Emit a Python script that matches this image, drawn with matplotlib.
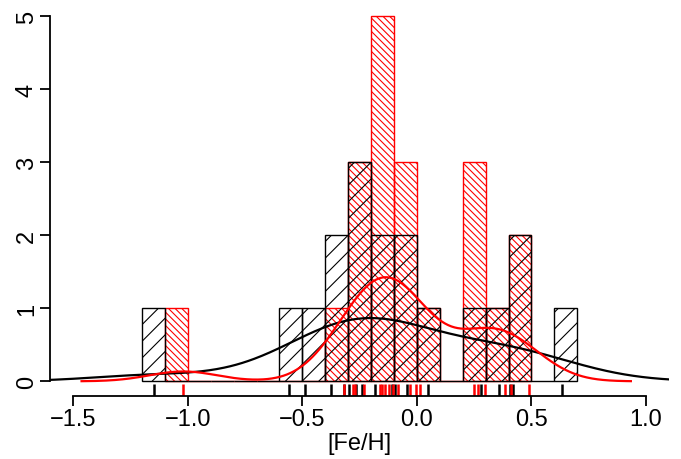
import numpy as np
import matplotlib
matplotlib.use("Agg")
import matplotlib.pyplot as plt

black_vals = [-1.148, -0.558, -0.489, -0.376, -0.318, -0.295, -0.266, -0.24,
              -0.183, -0.110, -0.096, -0.045, 0.050, 0.28, 0.36, 0.405, 0.42, 0.632]
red_vals = [-1.02, -0.318, -0.28, -0.27, -0.231, -0.16, -0.154, -0.14, -0.121,
            -0.105, -0.081, -0.030, -0.004, 0.013, 0.249, 0.268, 0.298, 0.385,
            0.409, 0.49]
black_bins = np.round(np.arange(-1.2, 0.7001, 0.1), 2)
red_bins = np.round(np.arange(-1.1, 0.5001, 0.1), 2)
black_bw = 0.265
red_bw = 0.148
xticks = [-1.5, -1.0, -0.5, 0.0, 0.5, 1.0]
xticklabels = ["\u22121.5", "\u22121.0", "\u22120.5", "0.0", "0.5", "1.0"]
yticks = [0, 1, 2, 3, 4, 5]


def kde(vals, bw, n=512, cut=3):
    v = np.asarray(vals)
    g = np.linspace(v.min() - cut * bw, v.max() + cut * bw, n)
    d = np.exp(-0.5 * ((g[:, None] - v[None, :]) / bw) ** 2).sum(1)
    d /= (len(v) * bw * np.sqrt(2 * np.pi))
    return g, d


plt.rcParams['font.family'] = ['Liberation Sans', 'DejaVu Sans']
plt.rcParams['hatch.linewidth'] = 0.8
W, H = 681, 460
fig = plt.figure(figsize=(W / 100, H / 100), dpi=100)
left, right, bottom, top = 50.4, 668.9, 396.9, 2.7
ax = fig.add_axes([left / W, 1 - bottom / H, (right - left) / W, (bottom - top) / H])

ax.hist(red_vals, bins=red_bins, histtype='bar', facecolor='none',
        edgecolor='#FF0000', hatch='\\' * 5, linewidth=1.0)
ax.hist(black_vals, bins=black_bins, histtype='bar', facecolor='none',
        edgecolor='black', hatch='//', linewidth=1.0)

gx, gy = kde(black_vals, black_bw)
ax.plot(gx, gy, color='black', lw=1.6)
rx, ry = kde(red_vals, red_bw)
ax.plot(rx, ry, color='#FF0000', lw=1.6)

# rugs
for v in black_vals:
    ax.plot([v, v], [0, 0.03], transform=ax.get_xaxis_transform(),
            color='black', lw=1.8, solid_capstyle='butt')
for v in red_vals:
    ax.plot([v, v], [0, 0.03], transform=ax.get_xaxis_transform(),
            color='#FF0000', lw=1.8, solid_capstyle='butt')

ax.set_xlim(-1.6, 1.1)
ax.set_ylim(-0.2, 5.2)
for s in ['top', 'right']:
    ax.spines[s].set_visible(False)
ax.spines['bottom'].set_bounds(-1.5, 1.0)
ax.spines['left'].set_bounds(0, 5)
ax.spines['bottom'].set_linewidth(1.3)
ax.spines['left'].set_linewidth(1.3)
ax.set_xticks(xticks)
ax.set_xticklabels(xticklabels)
ax.set_yticks(yticks)
ax.set_yticklabels([str(t) for t in yticks], rotation=90, va='center')
ax.tick_params(axis='both', length=7, width=1.3, labelsize=17, pad=2)
ax.set_xlabel('[Fe/H]', fontsize=17, labelpad=1)

fig.savefig('out.png', dpi=100)
